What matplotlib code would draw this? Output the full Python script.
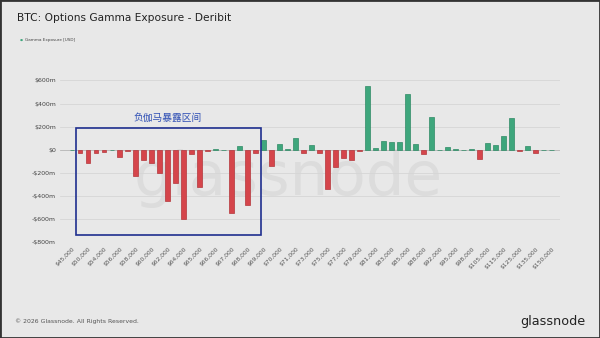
import matplotlib.pyplot as plt
from matplotlib.patches import Rectangle

# strikes (every other one is labelled on the axis)
strikes = ['$45,000', '$48,000', '$50,000', '$52,000', '$54,000', '$55,000', '$56,000', '$57,000',
           '$58,000', '$59,000', '$60,000', '$61,000', '$62,000', '$63,000', '$64,000', '$64,500',
           '$65,000', '$65,500', '$66,000', '$66,500', '$67,000', '$67,500', '$68,000', '$68,500',
           '$69,000', '$69,500', '$70,000', '$70,500', '$71,000', '$72,000', '$73,000', '$74,000',
           '$75,000', '$76,000', '$77,000', '$78,000', '$79,000', '$80,000', '$81,000', '$82,000',
           '$83,000', '$84,000', '$85,000', '$86,000', '$88,000', '$90,000', '$92,000', '$94,000',
           '$95,000', '$96,000', '$98,000', '$100,000', '$105,000', '$110,000', '$115,000', '$120,000',
           '$125,000', '$130,000', '$135,000', '$140,000', '$150,000']

# gamma exposure in millions USD
gamma = [0, -25, -115, -25, -20, 0, -60, -10,
         -225, -90, -115, -205, -445, -285, -600, -40,
         -320, -15, 5, 0, -545, 30, -480, -25,
         85, -145, 50, 5, 100, -25, 45, -30,
         -340, -150, -70, -85, -15, 555, 15, 75,
         65, 70, 480, 50, -40, 280, 0, 20,
         5, 0, 3, -80, 55, 40, 120, 275,
         -10, 35, -25, 0, 0]

yticks = [600, 400, 200, 0, -200, -400, -600, -800]
ytick_labels = ['$600m', '$400m', '$200m', '$0', '-$200m', '-$400m', '-$600m', '-$800m']

bg = '#e8e8e8'
green = '#3ea67c'
red = '#d5454b'

fig = plt.figure(figsize=(6, 3.38), dpi=100, facecolor=bg)
ax = fig.add_axes([0.1, 0.284, 0.833, 0.512])
ax.set_facecolor(bg)

xs = list(range(len(strikes)))
colors = [green if v >= 0 else red for v in gamma]
edges = ['#2f8a65' if v >= 0 else '#b3353a' for v in gamma]
ax.bar(xs, gamma, width=0.62, color=colors, edgecolor=edges, linewidth=0.5, zorder=3)
ax.axhline(0, color='#b0b0b0', linewidth=0.5, zorder=2)

ax.set_xlim(-1.5, 61)
ax.set_ylim(-800, 700)
ax.set_yticks(yticks)
ax.set_yticklabels(ytick_labels, fontsize=4.5, color='#444444')
ax.set_xticks(xs[::2])
ax.set_xticklabels(strikes[::2], fontsize=4.3, color='#555555', rotation=45,
                   ha='right', va='top', rotation_mode='anchor')
ax.tick_params(axis='both', length=0, pad=3)
ax.grid(axis='y', color='#d6d6d6', linewidth=0.6, zorder=0)
for s in ax.spines.values():
    s.set_visible(False)

# watermark
ax.text(27, -250, 'glassnode', fontsize=44, color='#dcdcdc', ha='center', va='center', zorder=1)

# highlighted region
ax.add_patch(Rectangle((0.5, -738), 23.1, 928, fill=False, edgecolor='#1f2f8f', linewidth=1.2, zorder=4))
ax.text(12, 275, '负伽马暴露区间', fontsize=7, color='#2f4fb5', ha='center', va='center',
        family=['Noto Sans CJK SC', 'DejaVu Sans'])

fig.text(0.028, 0.948, 'BTC: Options Gamma Exposure - Deribit', fontsize=7.7, color='#222222',
         ha='left', va='center')
fig.text(0.033, 0.882, '●', fontsize=2.5, color=green, ha='left', va='center')
fig.text(0.042, 0.882, 'Gamma Exposure [USD]', fontsize=3, color='#444444', ha='left', va='center')
fig.text(0.025, 0.05, '© 2026 Glassnode. All Rights Reserved.', fontsize=4.4, color='#555555',
         ha='left', va='center')
fig.text(0.975, 0.05, 'glassnode', fontsize=9.2, color='#222222', ha='right', va='center')

fig.patches.append(Rectangle((0, 0), 1, 1, transform=fig.transFigure, fill=False,
                             edgecolor='#333333', linewidth=2))

fig.savefig('out.png', dpi=100, facecolor=bg)
